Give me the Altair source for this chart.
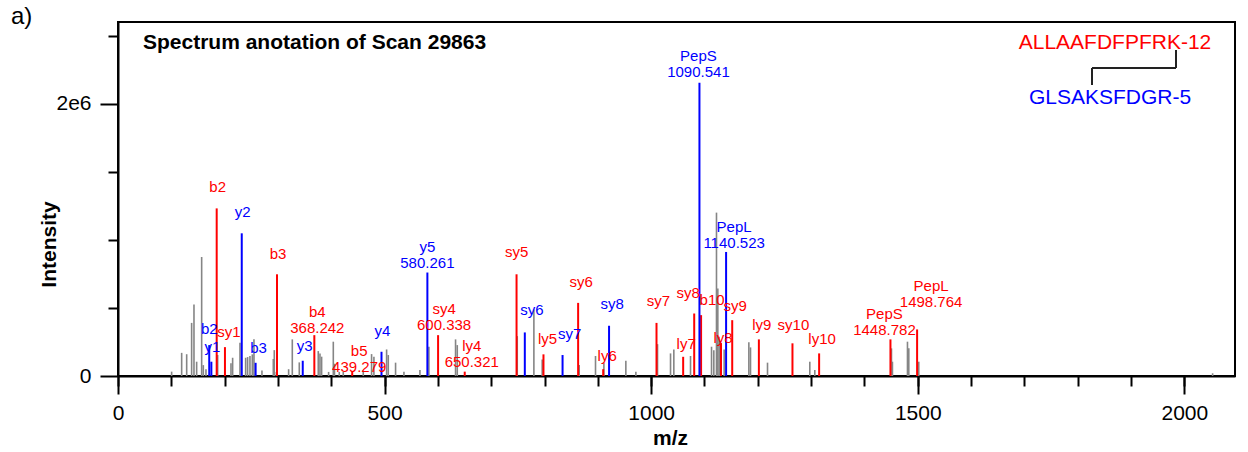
import altair as alt
import pandas as pd

# ---------------- data ----------------
gray_mz = [100.6, 119.4, 128.8, 138.1, 142.5, 147.5, 156.9, 160.0, 165.0, 186.9, 211.9, 215.0,
           228.8, 239.4, 243.1, 247.5, 251.9, 255.0, 270.0, 291.3, 293.1, 297.0, 320.0, 326.9,
           340.0, 375.6, 378.8, 381.9, 395.0, 403.8, 406.0, 415.0, 422.5, 460.0, 475.6, 480.0,
           503.8, 506.9, 520.6, 536.3, 566.3, 583.1, 633.1, 636.3, 748.8, 780.0, 795.6, 865.0,
           895.6, 911.3, 952.5, 971.3, 1011.9, 1036.3, 1042.5, 1073.8, 1113.2, 1117.5, 1122.5,
           1125.0, 1127.5, 1136.9, 1183.2, 1186.3, 1218.2, 1297.5, 1306.9, 1450.7, 1452.5,
           1480.7, 1483.2, 1501.9, 2053.0]
gray_int = [32000, 170000, 160000, 390000, 525000, 105000, 874000, 80000, 50000, 154000, 93000,
            134000, 244000, 134000, 139000, 147000, 159000, 269000, 40000, 125000, 190000,
            30000, 50000, 269000, 100000, 183000, 166000, 142000, 30000, 252000, 90000, 30000,
            30000, 40000, 161000, 142000, 195000, 154000, 98000, 32000, 44000, 215000, 269000,
            227000, 293000, 488000, 122000, 81000, 147000, 98000, 112000, 32000, 234000,
            166000, 195000, 147000, 215000, 190000, 1200000, 642000, 288000, 195000, 247000,
            210000, 98000, 105000, 44000, 203000, 105000, 252000, 203000, 105000, 20000]

alpha_mz = [185.1, 200.6, 298.2, 368.242, 439.279, 600.338, 650.321, 747.5, 798.0, 863.0,
            910.0, 1010.0, 1060.0, 1080.7, 1093.6, 1131.0, 1152.0, 1202.0, 1265.0, 1315.0,
            1448.782, 1498.764]
alpha_int = [1231000, 212000, 747000, 300000, 32000, 300000, 32000, 747000, 159000, 537000,
             50000, 390000, 141000, 459000, 447000, 242000, 410000, 269000, 240000, 166000,
             269000, 342000]
alpha_ion = ["b2", "sy1", "b3", "b4", "b5", "sy4", "ly4", "sy5", "ly5", "sy6", "ly6", "sy7",
             "ly7", "sy8", "b10", "ly8", "sy9", "ly9", "sy10", "ly10", "PepS", "PepL"]
alpha_val = ["", "", "", "368.242", "439.279", "600.338", "650.321", "", "", "", "", "", "",
             "", "", "", "", "", "", "", "1448.782", "1498.764"]

beta_mz = [171.1, 175.1, 232.1, 258.1, 346.5, 494.2, 580.261, 763.0, 833.8, 921.0, 1090.541,
           1140.523]
beta_int = [227000, 105000, 1048000, 97000, 112000, 178000, 760000, 320000, 154000, 369000,
            2154000, 911000]
beta_ion = ["b2", "y1", "y2", "b3", "y3", "y4", "y5", "sy6", "sy7", "sy8", "PepS", "PepL"]
beta_val = ["", "", "", "", "", "", "580.261", "", "", "", "1090.541", "1140.523"]

x_major = [0, 500, 1000, 1500, 2000]
x_minor = list(range(0, 2100, 100))
y_major = [0, 2000000]
y_minor = [500000, 1000000, 1500000, 2500000]

title_text = "Spectrum anotation of Scan 29863"
alpha_seq = "ALLAAFDFPFRK-12"
beta_seq = "GLSAKSFDGR-5"

# label placement nudges in pixels (dx, dy of the label's bottom from the peak top),
# imitating the de-overlapped placement of the reference
NUDGE = {
    ("alpha", "b2"): (1, -13), ("alpha", "sy1"): (4, -7), ("alpha", "b3"): (1, -12),
    ("alpha", "b4"): (3, -15), ("alpha", "b5"): (7, -13), ("alpha", "sy4"): (6, -18),
    ("alpha", "ly4"): (7, -18), ("alpha", "sy5"): (0, -14), ("alpha", "ly5"): (4, -7),
    ("alpha", "sy6"): (3, -13), ("alpha", "ly6"): (4, -5), ("alpha", "sy7"): (2, -14),
    ("alpha", "ly7"): (3, -5), ("alpha", "sy8"): (-6, -13), ("alpha", "b10"): (11, -7),
    ("alpha", "ly8"): (2, 3), ("alpha", "sy9"): (3, -6), ("alpha", "ly9"): (3, -6),
    ("alpha", "sy10"): (1, -10), ("alpha", "ly10"): (3, -6), ("alpha", "PepS"): (-6, -17),
    ("alpha", "PepL"): (14, -35),
    ("beta", "b2"): (0, -8), ("beta", "y1"): (1, -7), ("beta", "y2"): (1, -13),
    ("beta", "b3"): (3, -7), ("beta", "y3"): (2, -7), ("beta", "y4"): (1, -13),
    ("beta", "y5"): (0, -18), ("beta", "sy6"): (7, -14), ("beta", "sy7"): (7, -13),
    ("beta", "sy8"): (3, -14), ("beta", "PepS"): (-1, -19), ("beta", "PepL"): (8, -17),
}

# ---------------- tables ----------------
gray = pd.DataFrame({"mz": gray_mz, "intensity": gray_int})
ann = pd.concat([
    pd.DataFrame({"mz": alpha_mz, "intensity": alpha_int, "ion": alpha_ion,
                  "val": alpha_val, "chain": "alpha"}),
    pd.DataFrame({"mz": beta_mz, "intensity": beta_int, "ion": beta_ion,
                  "val": beta_val, "chain": "beta"}),
], ignore_index=True)
ann["label"] = [i if v == "" else i + "\n" + v for i, v in zip(ann["ion"], ann["val"])]

W, H = 1117, 354
FONT = "Liberation Sans"
xscale = alt.Scale(domain=[0, 2095], nice=False, zero=False)
yscale = alt.Scale(domain=[0, 2600000], nice=False)
cscale = alt.Scale(domain=["alpha", "beta"], range=["#ff0000", "#0000ff"])

major_x = alt.Axis(values=x_major, format="d", tickSize=18, labelPadding=8, grid=False,
                   orient="bottom", labelFlush=False,
                   title="m/z", titleFontSize=21, titleFontWeight="bold",
                   titleX=552, titleY=62, titleBaseline="middle")
minor_x = alt.Axis(values=x_minor, tickSize=10, labels=False, domain=False, grid=False,
                   orient="bottom", title="")
major_y = alt.Axis(values=y_major, tickSize=18, labelPadding=9, grid=False, orient="left",
                   labelExpr="datum.value == 0 ? '0' : '2e6'",
                   title="Intensity", titleFontSize=21, titleFontWeight="bold",
                   titleX=-69, titleY=222, titleBaseline="middle", titleAlign="center")
minor_y = alt.Axis(values=y_minor, tickSize=10, labels=False, domain=False, grid=False,
                   orient="left", title="")

gray_layer = alt.Chart(gray).mark_rule(color="#858585", strokeWidth=1.6).encode(
    x=alt.X("mz:Q", scale=xscale, axis=major_x),
    y=alt.Y("intensity:Q", scale=yscale, axis=major_y),
    y2=alt.datum(0),
)

col_layer = alt.Chart(ann).mark_rule(strokeWidth=2).encode(
    x=alt.X("mz:Q", scale=xscale, axis=minor_x),
    y=alt.Y("intensity:Q", scale=yscale, axis=minor_y),
    y2=alt.datum(0),
    color=alt.Color("chain:N", scale=cscale, legend=None),
)

label_layers = []
for idx in range(len(ann)):
    row = ann.iloc[[idx]]
    dx, dy = NUDGE[(row["chain"].iloc[0], row["ion"].iloc[0])]
    label_layers.append(
        alt.Chart(row).mark_text(
            font=FONT, fontSize=15, baseline="bottom", align="center", dx=dx, dy=dy,
            lineBreak="\n", lineHeight=16,
        ).encode(
            x=alt.X("mz:Q", scale=xscale, axis=None),
            y=alt.Y("intensity:Q", scale=yscale, axis=None),
            text="label:N",
            color=alt.Color("chain:N", scale=cscale, legend=None),
        )
    )

one = pd.DataFrame({"k": [0]})


def deco_text(txt, x, y, size, color, weight="normal", align="center"):
    return alt.Chart(one).mark_text(
        text=txt, font=FONT, fontSize=size, fontWeight=weight, color=color,
        align=align, baseline="middle",
    ).encode(x=alt.value(x), y=alt.value(y))


def deco_rule(x, x2, y, y2):
    return alt.Chart(one).mark_rule(color="#222222", strokeWidth=2).encode(
        x=alt.value(x), x2=alt.value(x2), y=alt.value(y), y2=alt.value(y2))


chart = alt.layer(
    gray_layer,
    col_layer,
    *label_layers,
    deco_text(title_text, 25, 21, 21, "black", "bold", "left"),
    deco_text("a)", -107, -5, 24, "black", "normal", "left"),
    deco_text(alpha_seq, 997, 21, 21, "#ff0000"),
    deco_text(beta_seq, 992, 76, 21, "#0000ff"),
    deco_rule(1058, 1058, 28, 46),
    deco_rule(974, 1058, 46, 46),
    deco_rule(974, 974, 46, 63),
).resolve_axis(x="independent", y="independent").properties(
    width=W, height=H,
    padding={"left": 118, "top": 22, "right": 13, "bottom": 76},
    autosize=alt.AutoSizeParams(type="none"),
).configure_view(
    stroke="black", strokeWidth=2,
).configure_axis(
    domainColor="black", domainWidth=2, tickColor="black", tickWidth=2,
    labelFont=FONT, labelFontSize=21, labelColor="black",
    titleFont=FONT, titleColor="black",
)

chart.save("out.html", embed_options={"renderer": "svg", "actions": False})
